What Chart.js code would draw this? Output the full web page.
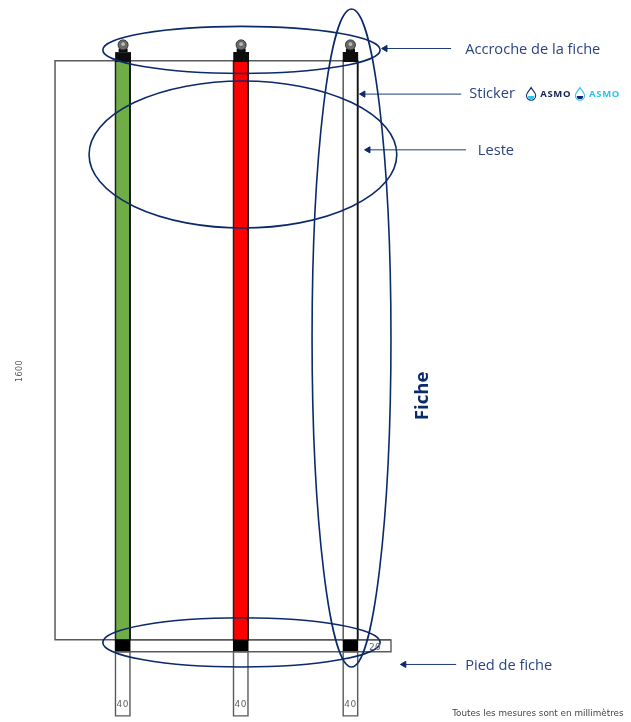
<!DOCTYPE html>
<html>
<head>
<meta charset="utf-8">
<title>Fiche</title>
<script src="https://cdn.jsdelivr.net/npm/chart.js@4"></script>
<style>
    html, body { margin: 0; padding: 0; background: #fff; }
    canvas { display: block; }
</style>
</head>
<body>
<canvas id="ficheChart" width="631" height="722"></canvas>
<script>
// All drawing values are millimetres, origin at the bottom left corner of the frame
const sheetHeight = 1600;
const stripLeft = [167, 493, 796];
const stripWidth = 40;
const stripFills = ['#70ad47', '#ff0000', '#ffffff'];
const footDepth = 33;
const footEnd = 210;
const footBarRight = 928;
const frameRight = 836;

// Hook centres
const hookCentre = [188, 514, 816];

// Ellipses: top, ballast, sheet, foot
const ellipseX = [515, 519, 819, 515];
const ellipseY = [1630, 1341, 834, -7];
const ellipseRx = [383, 425, 109, 383];
const ellipseRy = [65, 203, 909, 68];

// Leader arrows
const arrowTipX = [912, 851, 865, 964];
const arrowTailX = [1094, 1122, 1135, 1108];
const arrowY = [1634, 1508, 1354, -68];

const calloutTexts = ['Accroche de la fiche', 'Sticker', 'Leste', 'Pied de fiche'];
const calloutX = [1133, 1144, 1168, 1133];
const calloutY = [1619, 1497, 1340, -83];

const NAVY = '#0b2a6b';
const LEADER = '#1d3c78';
const GREY = '#5a5a5a';

function lineSet(points, color, width) {
    return {
        type: 'line',
        data: points,
        borderColor: color,
        borderWidth: width,
        pointRadius: 0,
        fill: false,
        tension: 0
    };
}

function rectFill(x0, x1, top, bottom, color) {
    return {
        type: 'line',
        data: [{ x: x0, y: top }, { x: x1, y: top }],
        borderWidth: 0,
        pointRadius: 0,
        backgroundColor: color,
        fill: { target: { value: bottom } }
    };
}

function rectOutline(x0, x1, top, bottom, color, width) {
    return lineSet([
        { x: x0, y: top }, { x: x1, y: top }, { x: x1, y: bottom },
        { x: x0, y: bottom }, { x: x0, y: top }
    ], color, width);
}

// Painted first to last, then reversed because Chart.js draws the first dataset on top
const layers = [];

// Frame and foot bar
layers.push(lineSet([
    { x: frameRight, y: sheetHeight }, { x: 0, y: sheetHeight }, { x: 0, y: 0 }, { x: footBarRight, y: 0 }
], GREY, 1.5));
layers.push(rectOutline(stripLeft[0], footBarRight, 0, -footDepth, GREY, 1.4));

stripLeft.forEach((left, i) => {
    const right = left + stripWidth;
    layers.push(rectFill(left, right, sheetHeight, 0, stripFills[i]));
    layers.push(rectOutline(left, right, sheetHeight, 0, i === 2 ? GREY : '#222222', 1.5));
    layers.push(lineSet([{ x: right, y: sheetHeight }, { x: right, y: 0 }], '#111111', 1.7));
    layers.push(rectFill(left - 2, right + 2, 0, -footDepth, '#000000'));
    layers.push(rectOutline(left, right, -footDepth, -footEnd, GREY, 1.4));
});

hookCentre.forEach((centre) => {
    layers.push(rectFill(centre - 22, centre + 22, 1624, 1597, '#0d0d10'));
    layers.push(rectFill(centre - 13, centre + 13, 1634, 1624, '#0d0d10'));
    layers.push({
        type: 'scatter',
        data: [{ x: centre, y: 1644 }],
        pointRadius: 5,
        pointBackgroundColor: '#6d6d6d',
        pointBorderColor: '#333333',
        pointBorderWidth: 1
    });
    layers.push({
        type: 'scatter',
        data: [{ x: centre, y: 1646 }],
        pointRadius: 2.4,
        pointBackgroundColor: '#b8b8b4',
        pointBorderColor: '#444444',
        pointBorderWidth: 0.6
    });
});

arrowTipX.forEach((tip, i) => {
    layers.push({
        type: 'line',
        data: [{ x: tip, y: arrowY[i] }, { x: arrowTailX[i], y: arrowY[i] }],
        borderColor: LEADER,
        borderWidth: 1,
        pointStyle: 'triangle',
        pointRotation: -90,
        pointRadius: [3.6, 0],
        pointBackgroundColor: NAVY,
        pointBorderColor: NAVY,
        fill: false
    });
});

// Draws ellipses, texts and logos on top of the datasets
const annotationPlugin = {
    id: 'annotations',
    afterDatasetsDraw(chart) {
        const { ctx, scales: { x, y } } = chart;
        const px = (v) => x.getPixelForValue(v);
        const py = (v) => y.getPixelForValue(v);

        function text(str, vx, vy, font, color, align, rotate, spacing) {
            ctx.save();
            ctx.translate(px(vx), py(vy));
            if (rotate) ctx.rotate(rotate);
            ctx.font = font;
            ctx.fillStyle = color;
            ctx.textAlign = align || 'left';
            ctx.letterSpacing = spacing || '0px';
            ctx.fillText(str, 0, 0);
            ctx.restore();
        }

        function drop(vx, vy, outline, water) {
            const cx = px(vx), cy = py(vy);
            ctx.save();
            ctx.beginPath();
            ctx.moveTo(cx, cy - 6.5);
            ctx.bezierCurveTo(cx + 1.5, cy - 3.5, cx + 4.6, cy - 1.5, cx + 4.6, cy + 1.5);
            ctx.arc(cx, cy + 1.5, 4.6, 0, Math.PI);
            ctx.bezierCurveTo(cx - 4.6, cy - 1.5, cx - 1.5, cy - 3.5, cx, cy - 6.5);
            ctx.closePath();
            ctx.strokeStyle = outline;
            ctx.lineWidth = 1.1;
            ctx.stroke();
            ctx.beginPath();
            ctx.arc(cx, cy + 1.8, 3.2, 0, Math.PI);
            ctx.closePath();
            ctx.fillStyle = water;
            ctx.fill();
            ctx.restore();
        }

        ctx.save();
        ctx.strokeStyle = NAVY;
        ctx.lineWidth = 1.6;
        ellipseX.forEach((cx, i) => {
            ctx.beginPath();
            ctx.ellipse(px(cx), py(ellipseY[i]),
                Math.abs(px(cx + ellipseRx[i]) - px(cx)),
                Math.abs(py(ellipseY[i] + ellipseRy[i]) - py(ellipseY[i])),
                0, 0, Math.PI * 2);
            ctx.stroke();
        });
        ctx.restore();

        calloutTexts.forEach((label, i) => {
            text(label, calloutX[i], calloutY[i], '14.6px "Open Sans"', '#2a4480');
        });
        text('Fiche', 1030, 674, 'bold 18.6px "Open Sans"', NAVY, 'center', -Math.PI / 2);
        text(String(sheetHeight), -91, 743, '8px "DejaVu Sans"', '#555555', 'center', -Math.PI / 2, '0.4px');
        stripLeft.forEach((left) => {
            text(String(stripWidth), left + stripWidth / 2, -185, '9px "DejaVu Sans"', '#666666', 'center', 0, '0.4px');
        });
        text('20', 884, -27, '9px "DejaVu Sans"', '#666666', 'center', 0, '0.4px');
        text('Toutes les mesures sont en millimètres', 1097, -210, '8.8px "DejaVu Sans"', '#444444');

        drop(1315, 1508, NAVY, '#2bc4ee');
        text('ASMO', 1340, 1501, 'bold 9.5px "Open Sans"', '#10244f', 'left', 0, '0.7px');
        drop(1450, 1508, '#2bc4ee', NAVY);
        text('ASMO', 1475, 1501, 'bold 9.5px "Open Sans"', '#2bc4ee', 'left', 0, '0.7px');
    }
};

new Chart(document.getElementById('ficheChart'), {
    data: { datasets: layers.reverse() },
    options: {
        responsive: false,
        animation: false,
        events: [],
        layout: { padding: 0, autoPadding: false },
        plugins: { legend: { display: false }, tooltip: { enabled: false } },
        scales: {
            x: { type: 'linear', display: false, min: -152, max: 1591 },
            y: { type: 'linear', display: false, min: -227, max: 1768 }
        }
    },
    plugins: [annotationPlugin]
});
</script>
</body>
</html>
